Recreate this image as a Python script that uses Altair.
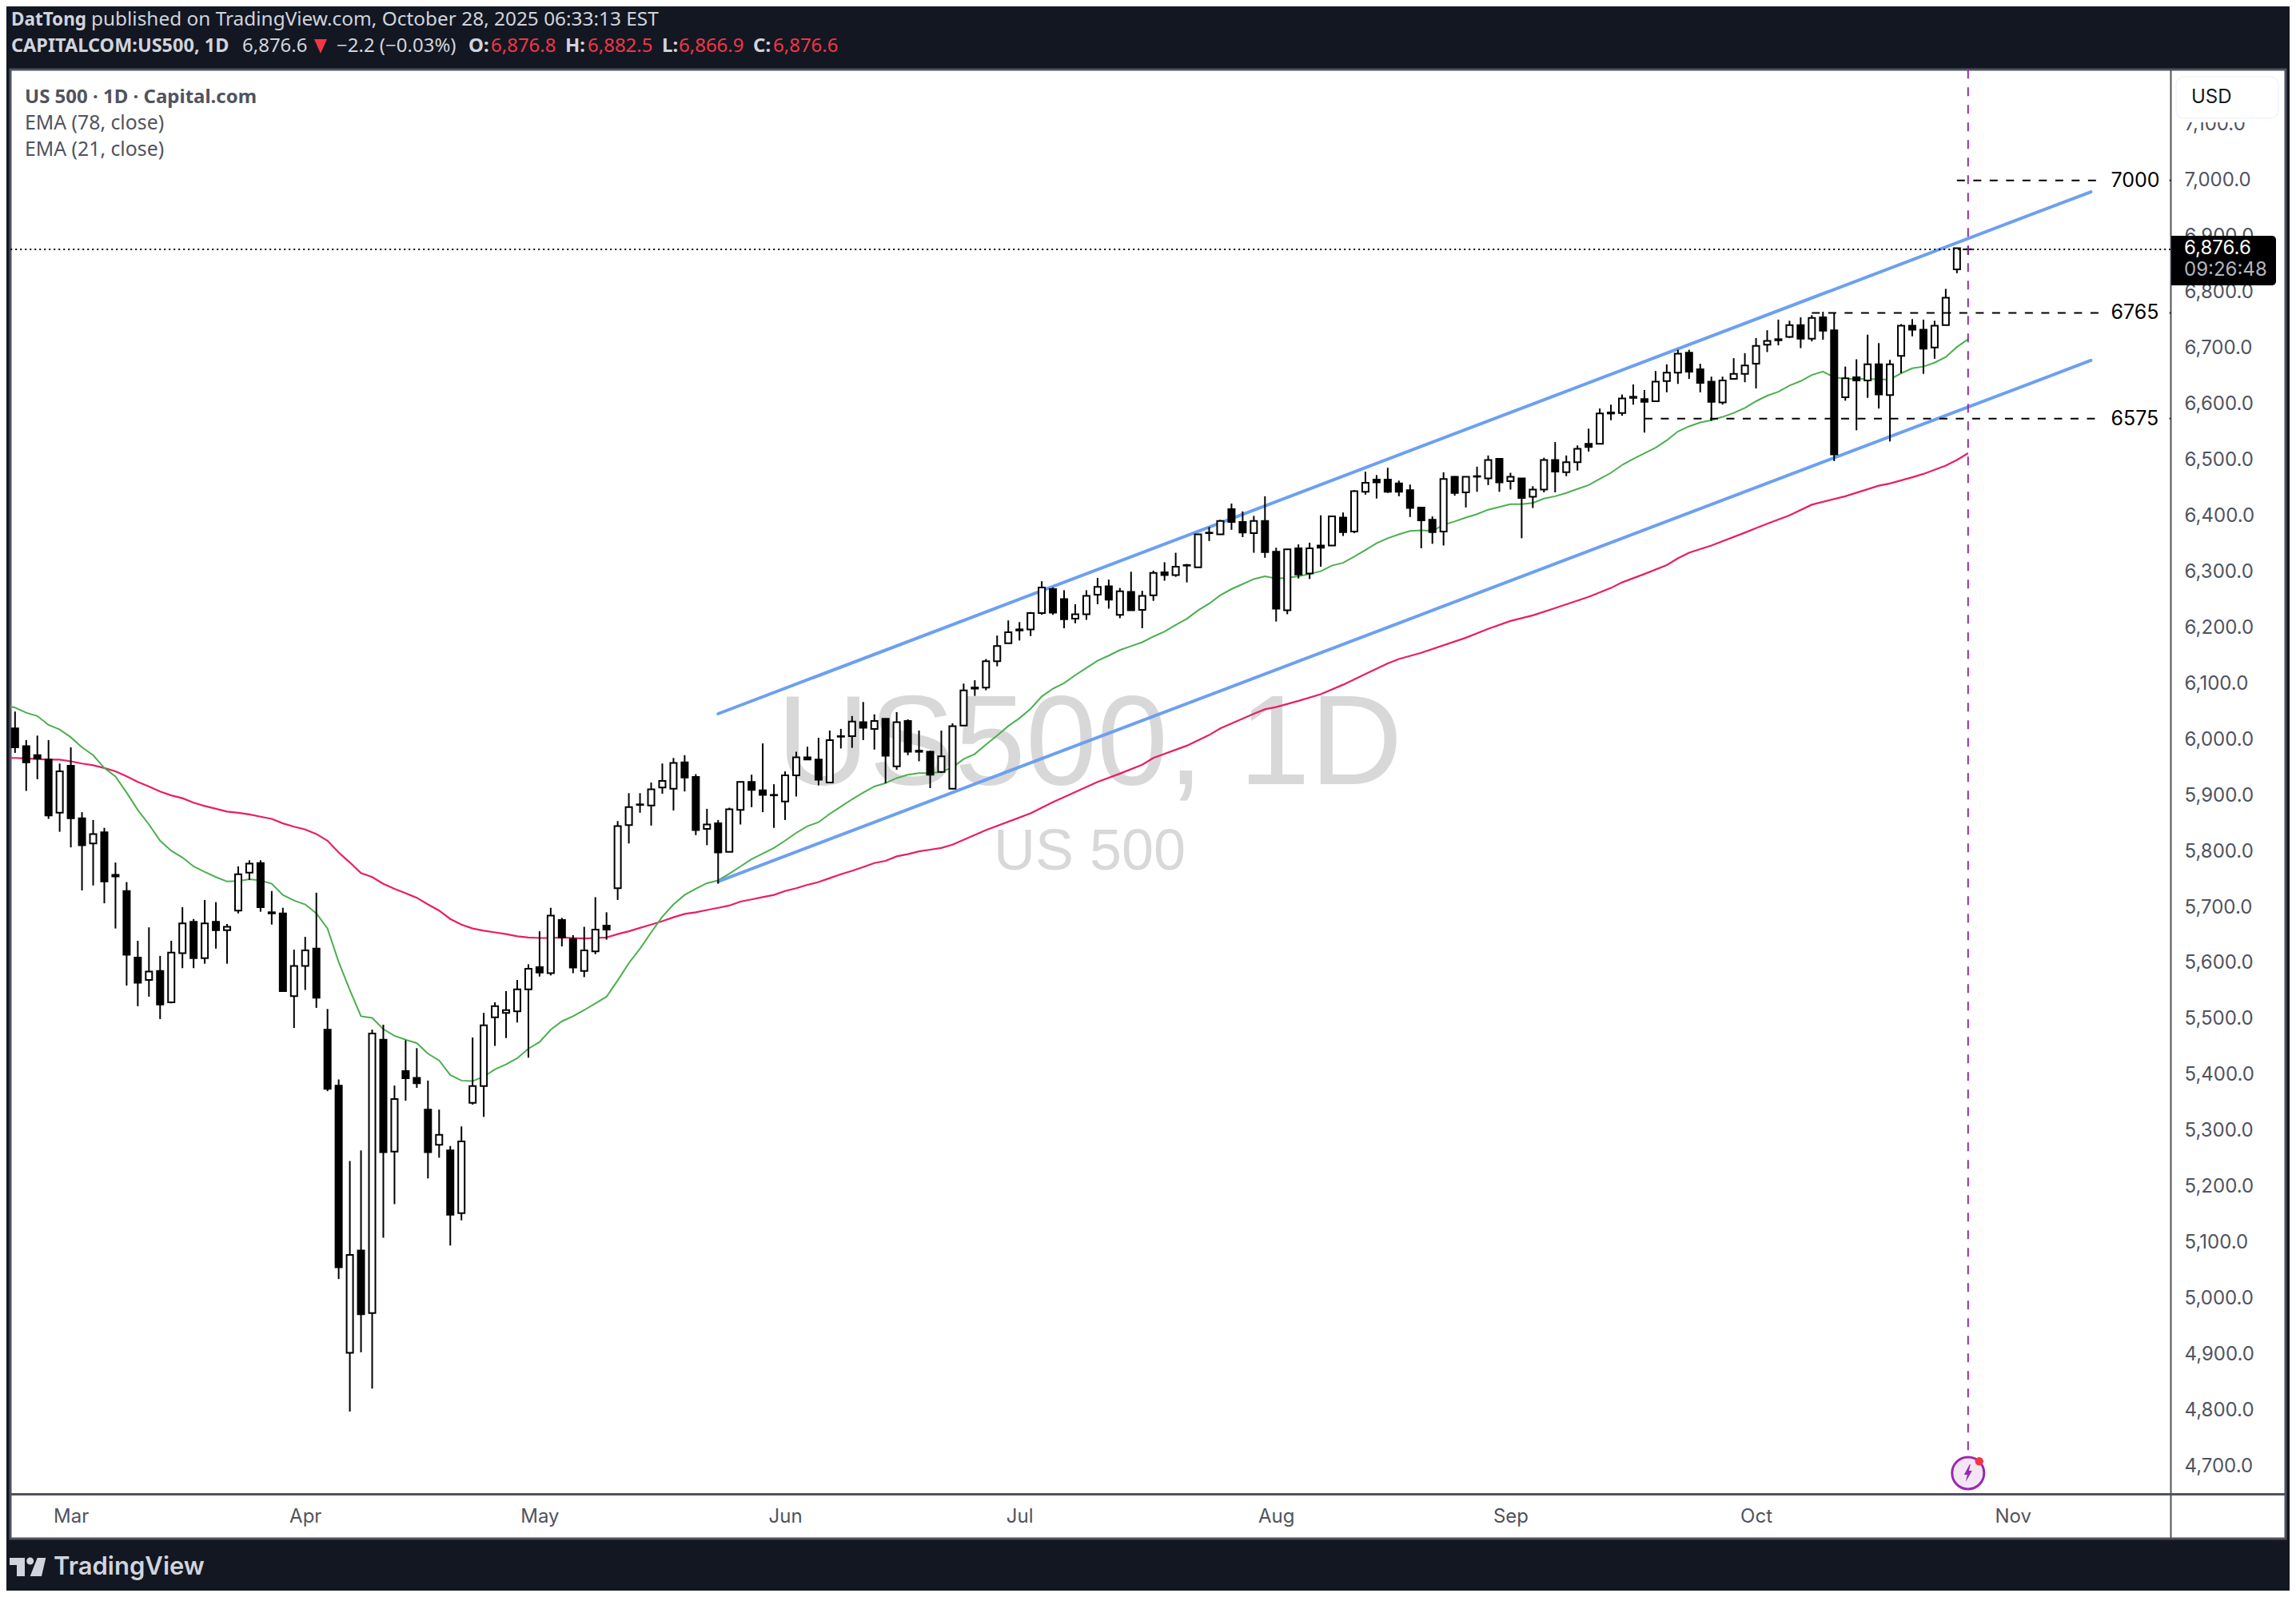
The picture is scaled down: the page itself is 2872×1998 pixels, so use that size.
import pandas as pd
import altair as alt

# daily candles, bar 0 = 24 Feb 2025 (weekdays only)
opens = [6020,5988,5972,5964,5869,5953,5859,5814,5834,5758,5729,5610,5570,5586,5530,5618,5674,5609,5674,5659,
         5694,5762,5779,5691,5689,5541,5595,5626,5481,5381,4903,5086,4974,5463,5263,5407,5395,5338,5275,5265,
         5153,5350,5380,5503,5511,5514,5553,5593,5582,5677,5643,5586,5621,5667,5734,5847,5884,5882,5914,5912,
         5959,5933,5840,5850,5799,5874,5924,5909,5901,5889,5936,5968,5964,5923,6006,6006,6031,6019,6037,5952,
         6033,5980,5978,5942,5912,6025,6093,6093,6140,6172,6197,6197,6226,6269,6251,6216,6224,6259,6274,6223,
         6264,6232,6258,6299,6294,6312,6308,6370,6367,6412,6389,6369,6391,6336,6231,6342,6297,6347,6347,6397,
         6372,6443,6465,6465,6458,6446,6415,6393,6372,6470,6442,6471,6467,6502,6462,6467,6434,6447,6500,6478,
         6496,6529,6529,6585,6584,6613,6609,6605,6641,6656,6692,6662,6640,6603,6645,6654,6672,6706,6716,6720,
         6741,6717,6755,6732,6612,6648,6642,6671,6616,6686,6740,6733,6701,6741,6841,6876.8]
highs = [6050,5999,6007,5999,5957,5986,5870,5856,5842,5780,5745,5640,5664,5613,5640,5700,5679,5713,5709,5670,
         5773,5784,5784,5729,5699,5624,5647,5726,5518,5392,5246,5265,5481,5490,5381,5462,5448,5390,5338,5273,
         5308,5467,5511,5530,5550,5570,5598,5657,5699,5681,5650,5665,5718,5691,5854,5904,5904,5923,5957,5967,
         5972,5938,5876,5856,5878,5925,5937,5993,5920,5943,5978,5987,6003,6016,6019,6042,6067,6045,6037,6049,
         6036,6016,5980,6016,6029,6100,6106,6144,6186,6213,6210,6228,6283,6272,6267,6242,6267,6289,6286,6271,
         6300,6266,6302,6317,6334,6314,6368,6380,6393,6422,6408,6400,6435,6343,6341,6349,6352,6401,6400,6406,
         6446,6479,6473,6486,6463,6456,6416,6399,6478,6471,6470,6488,6508,6502,6477,6467,6453,6504,6532,6508,
         6526,6556,6592,6599,6617,6635,6625,6659,6671,6697,6697,6672,6649,6649,6682,6691,6718,6732,6751,6749,
         6755,6759,6765,6763,6667,6680,6724,6709,6679,6743,6752,6751,6749,6806,6879,6882.5]
lows = [5976,5908,5929,5858,5835,5807,5730,5739,5707,5662,5560,5523,5540,5500,5528,5591,5591,5599,5626,5599,
        5689,5749,5692,5669,5550,5484,5552,5520,5371,5035,4798,4904,4839,5109,5169,5354,5377,5215,5252,5095,
        5140,5347,5325,5452,5466,5494,5431,5576,5578,5630,5582,5575,5616,5642,5713,5814,5869,5846,5903,5873,
        5907,5829,5811,5742,5799,5848,5879,5870,5842,5856,5898,5964,5918,5923,5984,5985,5999,5982,5922,5946,
        5972,5961,5913,5940,5911,6025,6078,6088,6131,6172,6177,6185,6223,6223,6199,6208,6214,6242,6234,6217,
        6231,6199,6248,6284,6291,6281,6308,6355,6366,6375,6362,6334,6325,6211,6224,6288,6287,6309,6346,6364,
        6369,6438,6431,6441,6435,6398,6342,6350,6347,6436,6415,6443,6455,6443,6447,6360,6414,6442,6442,6471,
        6481,6515,6529,6571,6579,6599,6549,6605,6621,6636,6645,6621,6570,6599,6645,6639,6628,6693,6705,6718,
        6700,6712,6715,6498,6606,6553,6611,6592,6533,6655,6721,6654,6681,6741,6834,6866.9]
closes = [5986,5959,5966,5864,5943,5859,5811,5831,5746,5755,5615,5565,5585,5526,5619,5671,5609,5671,5659,5665,
          5759,5778,5700,5689,5550,5595,5623,5538,5375,5056,5078,4972,5474,5262,5357,5394,5385,5262,5293,5150,
          5281,5380,5489,5523,5516,5553,5590,5583,5685,5646,5592,5623,5660,5660,5845,5879,5883,5911,5926,5958,
          5932,5838,5848,5798,5875,5924,5910,5901,5900,5936,5968,5964,5928,5999,6005,6032,6021,6033,5971,6031,
          5978,5978,5937,5970,6024,6088,6091,6140,6167,6192,6195,6226,6272,6227,6215,6224,6257,6273,6250,6265,
          6231,6257,6298,6294,6309,6311,6367,6369,6391,6389,6370,6391,6335,6234,6340,6295,6342,6343,6399,6371,
          6444,6459,6460,6443,6443,6414,6392,6371,6466,6441,6470,6470,6500,6460,6470,6432,6447,6500,6479,6496,
          6520,6523,6583,6583,6610,6611,6604,6640,6656,6690,6658,6638,6604,6642,6654,6669,6704,6713,6714,6741,
          6717,6754,6731,6510,6646,6642,6671,6617,6671,6740,6733,6699,6740,6790,6878.8,6876.6]

# EMA 21, one value per bar starting one bar left of the frame (bar -1)
ema21 = [6062,6057,6048,6042,6026,6018,6004,5986,5972,5949,5934,5905,5874,5848,5819,5801,5789,5773,5763,5754,
         5746,5747,5750,5748,5742,5722,5712,5705,5689,5662,5602,5552,5505,5502,5482,5470,5463,5457,5438,5426,
         5400,5390,5389,5397,5410,5419,5430,5447,5459,5481,5496,5505,5516,5528,5540,5569,5600,5626,5655,5683,
         5705,5722,5733,5743,5748,5760,5773,5786,5796,5806,5819,5833,5845,5852,5867,5880,5893,5905,5916,5922,
         5931,5937,5940,5940,5942,5950,5965,5974,5991,6007,6024,6038,6055,6077,6091,6101,6115,6128,6141,6150,
         6160,6167,6174,6184,6193,6205,6216,6231,6243,6258,6269,6278,6287,6292,6288,6289,6292,6296,6301,6311,
         6316,6327,6339,6351,6360,6367,6373,6374,6373,6384,6390,6397,6403,6411,6416,6421,6421,6423,6431,6435,
         6441,6448,6455,6466,6477,6491,6502,6512,6522,6535,6551,6560,6567,6571,6577,6584,6593,6605,6615,6622,
         6633,6641,6652,6658,6648,6645,6645,6645,6644,6644,6655,6664,6667,6674,6684,6702,6716]

# EMA 78, read at these bars only
ema78_bars = list(range(-1, 85)) + [87,91,93,94,97,99,101,102,105,107,108,111,112,113,115,117,119,121,123,124,126,
                                    130,132,134,136,138,141,143,144,146,148,149,150,152,155,156,157,159,161,164,
                                    167,168,170,171,173,174,175]
ema78 = [5967,5967,5966,5965,5964,5964,5961,5957,5954,5949,5943,5934,5924,5916,5907,5900,5895,5887,5881,5876,
         5871,5869,5866,5862,5858,5850,5844,5839,5831,5819,5798,5780,5761,5754,5742,5733,5725,5717,5705,5694,
         5679,5669,5662,5658,5655,5652,5648,5646,5645,5645,5646,5645,5644,5645,5646,5652,5657,5663,5669,5675,
         5682,5688,5691,5695,5699,5703,5710,5714,5718,5722,5729,5734,5740,5745,5752,5759,5765,5772,5779,5783,
         5791,5795,5800,5803,5806,5812,
         5838,5868,5888,5897,5924,5939,5955,5967,5989,6008,6020,6046,6054,6058,6069,6081,6098,6117,6136,6144,6155,
         6182,6198,6212,6222,6235,6255,6271,6281,6296,6312,6324,6334,6347,6370,6378,6386,6401,6420,6435,
         6454,6458,6469,6475,6490,6500,6512]

channel_bars = [63, 186]
channel_upper = [6046, 6979.5]
channel_lower = [5746, 6678]

level_names = ["7000", "6765", "6575"]
level_prices = [7000, 6763, 6574]
level_start = [174, 161, 146]

price_ticks = list(range(4700, 7200, 100))
month_names = ["Mar", "Apr", "May", "Jun", "Jul", "Aug", "Sep", "Oct", "Nov"]
month_bars = [5, 26, 47, 69, 90, 113, 134, 156, 179]

# frame position in the 2872x1998 picture, page margin already taken off below
LEFT, TOP, W, H = 13, 87, 2846, 1838
BAR0, BAR_W = 18.8, 13.96
PY, PPX = 312, 0.6995

def px(x):
    return x - LEFT

def py(y):
    return y - TOP

# padding=0: bars would otherwise pad the continuous x scale
x_scale = alt.Scale(domain=[(LEFT - BAR0) / BAR_W, (LEFT + W - BAR0) / BAR_W], nice=False, zero=False, padding=0)
y_scale = alt.Scale(domain=[6876.6 - (TOP + H - PY) / PPX, 6876.6 + (PY - TOP) / PPX], nice=False, zero=False)
X_AX = (2715 - BAR0) / BAR_W

x_axis = alt.Axis(
    values=month_bars, title=None, orient="bottom", offset=-56, ticks=False, grid=False,
    domainColor="#50535E", domainWidth=3, labelColor="#50535E", labelFont="Inter", labelFontSize=24,
    labelPadding=16, labelExpr="%s[indexof(%s, datum.value)]" % (month_names, month_bars))
y_axis = alt.Axis(
    values=price_ticks, title=None, orient="right", offset=-144, ticks=False, grid=False, format=",.1f",
    domainColor="#50535E", domainWidth=2, labelColor="#50535E", labelFont="Inter", labelFontSize=24,
    labelPadding=17, labelAlign="left", labelOverlap=False)

def X(f):
    return alt.X(f, type="quantitative", scale=x_scale, axis=x_axis)

def Y(f):
    return alt.Y(f, type="quantitative", scale=y_scale, axis=y_axis)

def label(txt, x, y, size=24, color="#50535E", font="Noto Sans", weight="normal", align="left"):
    return alt.Chart(pd.DataFrame({"t": [txt]})).mark_text(
        font=font, fontSize=size, fontWeight=weight, color=color, align=align, baseline="middle"
    ).encode(text="t:N", x=alt.value(px(x)), y=alt.value(py(y)))

candles = pd.DataFrame({"bar": range(len(opens)), "o": opens, "h": highs, "l": lows, "c": closes})
candles["fill"] = ["#ffffff" if c >= o and i != 175 else "#000000" for i, (o, c) in enumerate(zip(opens, closes))]

green = pd.DataFrame({"bar": range(-1, len(ema21) - 1), "v": ema21})
pink = pd.DataFrame({"bar": ema78_bars, "v": ema78})
upper = pd.DataFrame({"bar": channel_bars, "v": channel_upper})
lower = pd.DataFrame({"bar": channel_bars, "v": channel_lower})
levels = pd.DataFrame({"name": level_names, "v": level_prices, "a": level_start})

watermark = [
    label("US500, 1D", 1363, 933, size=160, color="#D8D8D8", font="Liberation Sans", align="center"),
    label("US 500", 1363, 1066, size=72, color="#D8D8D8", font="Liberation Sans", align="center"),
]

ema_lines = [
    alt.Chart(pink).mark_line(color="#E91E63", strokeWidth=2.2, clip=True).encode(x=X("bar"), y=Y("v")),
    alt.Chart(green).mark_line(color="#4CAF50", strokeWidth=2, clip=True).encode(x=X("bar"), y=Y("v")),
]

wicks = alt.Chart(candles).mark_rule(color="#000000", strokeWidth=2).encode(x=X("bar"), y=Y("h"), y2="l")
bodies = alt.Chart(candles).mark_bar(size=8, stroke="#000000", strokeWidth=2).encode(
    x=X("bar"), y=Y("o"), y2="c", fill=alt.Fill("fill:N", scale=None)
)

chan = [
    alt.Chart(d).mark_line(color="#6CA0F0", strokeWidth=4, strokeCap="round").encode(x=X("bar"), y=Y("v"))
    for d in (upper, lower)
]

dash = dict(color="#000000", strokeWidth=2)
level_rules = alt.Chart(levels).transform_calculate(b="187.1").mark_rule(strokeDash=[10, 10.5], **dash).encode(
    x=X("a"), x2="b:Q", y=Y("v"))
level_stub = alt.Chart(levels).transform_calculate(a2="193.05", b="%f" % X_AX).mark_rule(**dash).encode(
    x=X("a2:Q"), x2="b:Q", y=Y("v"))
level_text = alt.Chart(levels).transform_calculate(b="187.8").mark_text(
    font="Inter", fontSize=25, color="#000000", align="left", baseline="middle"
).encode(x=X("b:Q"), y=Y("v"), text="name:N")

last_line = alt.Chart(pd.DataFrame({"a": [-0.4], "b": [X_AX], "v": [6876.6]})).mark_rule(
    color="#000000", strokeWidth=2, strokeDash=[2, 4]).encode(x=X("a"), x2="b:Q", y=Y("v"))

today = alt.Chart(pd.DataFrame({"bar": [175], "a": [7198], "b": [4729]})).mark_rule(
    color="#9C27B0", strokeWidth=2, strokeDash=[11, 11]).encode(x=X("bar"), y=Y("a"), y2="b:Q")

ICON = pd.DataFrame({"bar": [175], "v": [4688]})
icon = [
    alt.Chart(ICON).mark_point(filled=True, size=1600, fill="#F3E5F5", stroke="#9C27B0", strokeWidth=3, opacity=1,
                               shape="circle").encode(x=X("bar"), y=Y("v")),
    alt.Chart(ICON).mark_point(filled=True, size=4, fill="#9C27B0", strokeWidth=0, opacity=1,
                               shape="M2 -11 L-5 2 H-1 L-3 11 L5 -3 H1 L3 -11 Z").encode(x=X("bar"), y=Y("v")),
    alt.Chart(pd.DataFrame({"bar": [176], "v": [4709]})).mark_point(
        filled=True, size=110, fill="#F23645", strokeWidth=0, opacity=1, shape="circle").encode(x=X("bar"), y=Y("v")),
]

# tag on the price scale and the currency button
tag = alt.Chart(pd.DataFrame({"k": [0]})).mark_rect(
    color="#000000", cornerRadiusTopRight=5, cornerRadiusBottomRight=5
).encode(x=alt.value(px(2716)), x2=alt.value(px(2847)), y=alt.value(py(295)), y2=alt.value(py(357)))
cover = alt.Chart(pd.DataFrame({"k": [0]})).mark_rect(color="#ffffff").encode(
    x=alt.value(px(2717)), x2=alt.value(px(2857)), y=alt.value(py(89)), y2=alt.value(py(153)))
usd_box = alt.Chart(pd.DataFrame({"k": [0]})).mark_rect(
    fill="#ffffff", stroke="#F0F3FA", strokeWidth=1.5, cornerRadius=10
).encode(x=alt.value(px(2722)), x2=alt.value(px(2850)), y=alt.value(py(96)), y2=alt.value(py(148)))

texts = [
    label("6,876.6", 2732, 311, color="#ffffff", font="Inter"),
    label("09:26:48", 2732, 338, color="#B2B5BE", font="Inter"),
    label("USD", 2741, 122, color="#131722", font="Inter"),
    label("US 500 · 1D · Capital.com", 31, 122, weight="bold"),
    label("EMA (78, close)", 31, 155, size=24.8),
    label("EMA (21, close)", 31, 188, size=24.8),
]

RED = "#F23645"
LIGHT = "#D1D4DC"
header = [
    label("DatTong", 14, 25, size=22.5, color=LIGHT, weight="bold"),
    label("published on TradingView.com, October 28, 2025 06:33:13 EST", 114, 25, size=24.4, color=LIGHT),
    label("CAPITALCOM:US500, 1D", 14, 58, size=23.5, color=LIGHT, weight="bold"),
    label("6,876.6", 303, 58, color=LIGHT),
    label("−2.2 (−0.03%)", 421, 58, color=LIGHT),
    label("O:", 586, 58, color=LIGHT, weight="bold"),
    label("6,876.8", 614, 58, color=RED),
    label("H:", 707, 58, color=LIGHT, weight="bold"),
    label("6,882.5", 735, 58, color=RED),
    label("L:", 828, 58, color=LIGHT, weight="bold"),
    label("6,866.9", 849, 58, color=RED),
    label("C:", 942, 58, color=LIGHT, weight="bold"),
    label("6,876.6", 967, 58, color=RED),
    alt.Chart(pd.DataFrame({"k": [0]})).mark_point(
        filled=True, fill=RED, strokeWidth=0, opacity=1, size=4, shape="M-8 -9 H8 L0 9 Z"
    ).encode(x=alt.value(px(401)), y=alt.value(py(58))),
    label("TradingView", 67, 1961, size=31, color=LIGHT, font="Inter", weight=600),
    alt.Chart(pd.DataFrame({"k": [0]})).mark_point(
        filled=True, fill=LIGHT, strokeWidth=0, opacity=1, size=4,
        shape="M0 0 H19 V23 H9 V9 H0 Z M34.7 0 H45.3 L40 23 H25.7 Z M21.2 4 A4.5 4.5 0 1 0 30.2 4 A4.5 4.5 0 1 0 21.2 4 Z"
    ).encode(x=alt.value(px(12)), y=alt.value(py(1949))),
]

chart = alt.layer(
    *watermark, *ema_lines, *chan, wicks, bodies, level_rules, level_stub, level_text, last_line, today, *icon,
    cover, usd_box, tag, *texts, *header
).properties(
    width=W, height=H, autosize="none",
    padding={"left": LEFT - 8, "top": TOP - 8, "right": 2864 - LEFT - W, "bottom": 1990 - TOP - H},
    background="#131722",
).configure_view(fill="#ffffff", stroke="#50535E", strokeWidth=3)

chart.save("out.html", embed_options={"renderer": "svg", "actions": False})
